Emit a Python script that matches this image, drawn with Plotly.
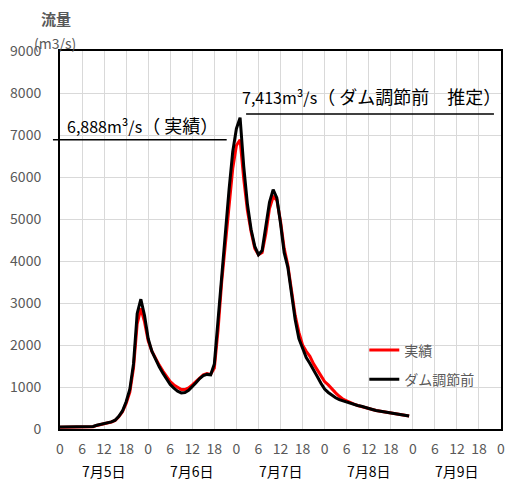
import plotly.graph_objects as go

# hours from 7/5 0:00
hours = list(range(0, 96))

# ダム調節前 (estimated, without dam regulation)
before_dam = [50, 50, 50, 50, 50, 50, 50, 50, 50, 60, 90, 110,
              130, 145, 170, 210, 300, 430, 650, 950, 1550, 2750, 3090, 2700,
              2150, 1850, 1650, 1480, 1330, 1180, 1060, 970, 900, 860, 870, 920,
              1000, 1100, 1200, 1270, 1300, 1290, 1550, 2600, 3750, 4700, 5700, 6600,
              7150, 7413, 6250, 5350, 4750, 4350, 4150, 4250, 4800, 5400, 5700, 5500,
              4900, 4200, 3850, 3250, 2600, 2150, 1900, 1700, 1560, 1420, 1250, 1090,
              950, 870, 800, 745, 700, 670, 650, 620, 590, 560, 540, 510,
              490, 465, 440, 425, 410, 395, 380, 365, 350, 335, 320, 310]

# 実績 (observed)
observed = [40, 40, 40, 40, 40, 40, 40, 40, 40, 55, 85, 105,
            125, 140, 165, 205, 290, 410, 610, 880, 1450, 2500, 2870, 2550,
            2100, 1850, 1680, 1520, 1380, 1240, 1130, 1050, 990, 940, 940, 980,
            1050, 1130, 1220, 1290, 1320, 1300, 1450, 2350, 3500, 4450, 5400, 6200,
            6750, 6888, 5950, 5200, 4700, 4300, 4150, 4200, 4650, 5250, 5530, 5450,
            4950, 4300, 3900, 3300, 2700, 2300, 2000, 1850, 1730, 1550, 1400, 1250,
            1130, 1050, 950, 860, 780, 710, 670, 620, 590, 560, 540, 510,
            490, 465, 440, 425, 410, 395, 380, 365, 350, 335, 320, 310]

tick_vals = list(range(0, 121, 6))
tick_text = [str(v % 24) for v in tick_vals]
day_labels = ["7月5日", "7月6日", "7月7日", "7月8日", "7月9日"]
day_centers = [12, 36, 60, 84, 108]

peak_observed = 6888
peak_before = 7413

font = "Noto Sans CJK JP"
gray = "#595959"
big = '<span style="font-size:18px">'

fig = go.Figure()
fig.add_trace(go.Scatter(x=hours, y=observed, mode="lines", name="実績",
                         line=dict(color="#ff0000", width=3), legendgroup="a"))
fig.add_trace(go.Scatter(x=hours, y=before_dam, mode="lines", name="ダム調節前",
                         line=dict(color="#000000", width=3), legendgroup="b"))

# peak marker lines and labels
fig.add_shape(type="line", xref="paper", yref="paper",
              x0=-0.016, x1=0.378, y0=peak_observed / 9000, y1=peak_observed / 9000,
              line=dict(color="black", width=1.5))
fig.add_shape(type="line", xref="paper", yref="paper",
              x0=0.422, x1=0.984, y0=7500 / 9000, y1=7500 / 9000,
              line=dict(color="black", width=1.5))
fig.add_annotation(text="6,888m³/s" + big + "（ 実績）</span>", xref="paper", yref="paper",
                   x=0.011, y=peak_observed / 9000, xanchor="left", yanchor="bottom",
                   yshift=0, showarrow=False, font=dict(size=16, color="black", family=font))
fig.add_annotation(text="7,413m³/s" + big + "（ ダム調節前　推定）</span>",
                   xref="paper", yref="paper",
                   x=0.409, y=7500 / 9000, xanchor="left", yanchor="bottom",
                   yshift=3, showarrow=False, font=dict(size=16, color="black", family=font))

# axis title
fig.add_annotation(text="<b>流量</b>", xref="paper", yref="paper", x=-0.009, y=1.0, yshift=33,
                   xanchor="center", yanchor="middle", showarrow=False,
                   font=dict(size=15, color=gray, family=font))
fig.add_annotation(text="(m3/s)", xref="paper", yref="paper", x=-0.011, y=1.0, yshift=8,
                   xanchor="center", yanchor="middle", showarrow=False,
                   font=dict(size=14, color=gray, family=font))

for d, c in zip(day_labels, day_centers):
    fig.add_annotation(text=d, x=c, xref="x", yref="paper", y=-0.111,
                       yanchor="middle", showarrow=False,
                       font=dict(size=14, color="black", family=font))

fig.update_xaxes(range=[0, 120], tickvals=tick_vals, ticktext=tick_text,
                 showgrid=True, gridcolor="#d9d9d9", gridwidth=1,
                 showline=True, linecolor="black", linewidth=2, mirror=True,
                 zeroline=False, ticks="", ticklabelstandoff=6,
                 tickfont=dict(size=14, color=gray, family=font))
fig.update_yaxes(range=[0, 9000], dtick=1000,
                 showgrid=True, gridcolor="#d9d9d9", gridwidth=1,
                 showline=True, linecolor="black", linewidth=2, mirror=True,
                 zeroline=False, ticks="", ticklabelstandoff=14,
                 tickfont=dict(size=14, color=gray, family=font))

fig.update_layout(
    width=510, height=481,
    margin=dict(l=60, r=5, t=51, b=52),
    plot_bgcolor="white", paper_bgcolor="white",
    font=dict(family=font),
    legend=dict(x=0.69, y=0.25, xanchor="left", yanchor="top",
                bgcolor="rgba(0,0,0,0)", traceorder="grouped", tracegroupgap=8,
                font=dict(size=14, color=gray, family=font)),
)

fig.write_html("out.html", config={"displayModeBar": False},
               post_script="document.body.style.margin='0';document.body.style.overflow='hidden';")
